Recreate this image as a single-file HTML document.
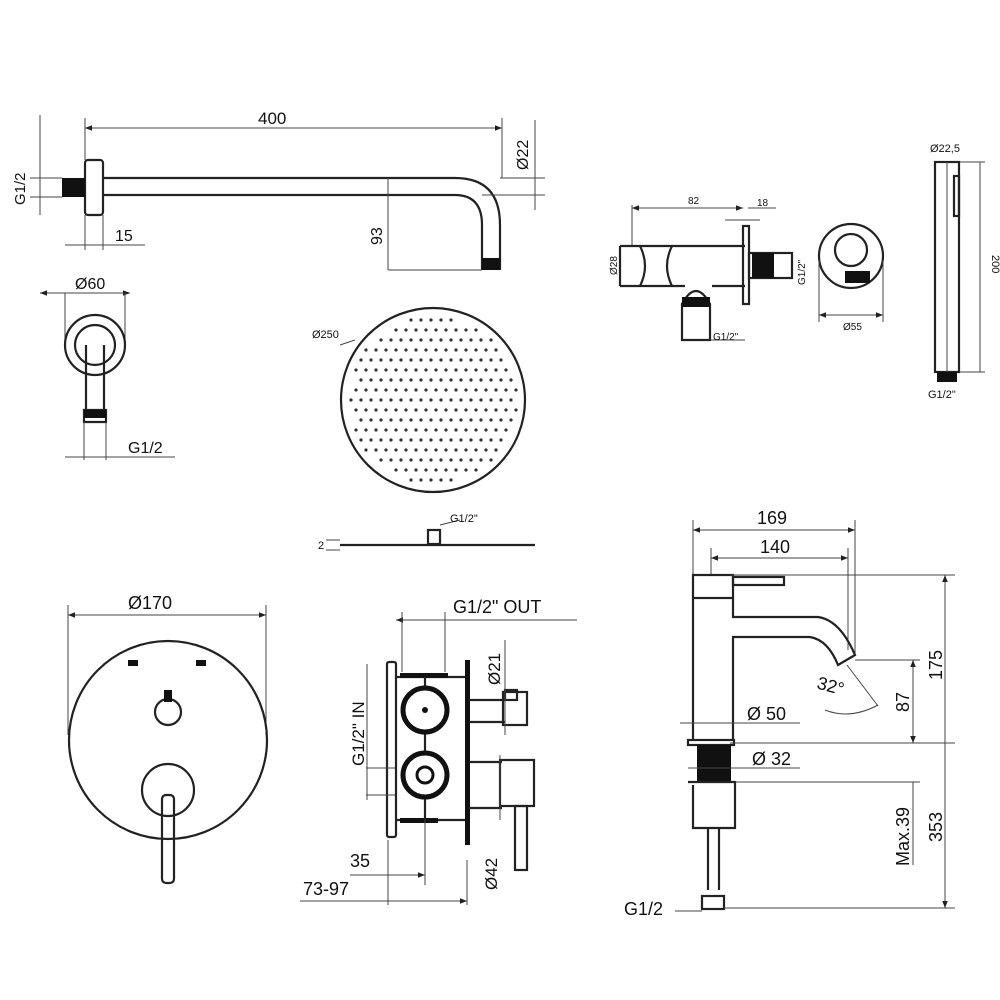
<!DOCTYPE html>
<html><head><meta charset="utf-8"><style>
html,body{margin:0;padding:0;background:#fff}
svg{display:block}
text{font-family:"Liberation Sans",Arial,sans-serif;fill:#111}
.l{stroke:#222;stroke-width:2.2;fill:none}
.t{stroke:#444;stroke-width:1;fill:none}
.b{fill:#111}
</style></head><body>
<svg width="1000" height="1000" viewBox="0 0 1000 1000" xmlns="http://www.w3.org/2000/svg">
<defs><marker id="a" viewBox="0 0 10 10" refX="10" refY="5" markerWidth="7" markerHeight="7" orient="auto-start-reverse"><path d="M0,1L10,5L0,9z" fill="#222"/></marker></defs>

<!-- Shower arm -->
<line class="t" x1="85" y1="128" x2="502" y2="128" marker-start="url(#a)" marker-end="url(#a)"/>
<line class="t" x1="85" y1="118" x2="85" y2="160"/><line class="t" x1="502" y1="118" x2="502" y2="178"/>
<text x="258" y="124" font-size="17">400</text>
<rect class="l" x="85" y="160" width="18" height="55" rx="3"/>
<rect class="b" x="62" y="178" width="23" height="19"/>
<path class="l" d="M103,178 H455 Q500,178 500,225 V270 M103,195 H455 Q482,195 482,225 V270"/>
<rect class="b" x="482" y="258" width="18" height="12"/>
<line class="t" x1="30" y1="178" x2="62" y2="178"/><line class="t" x1="30" y1="197" x2="62" y2="197"/>
<line class="t" x1="40" y1="115" x2="40" y2="215"/>
<text transform="translate(25,205) rotate(-90)" font-size="15">G1/2</text>
<line class="t" x1="500" y1="178" x2="545" y2="178"/><line class="t" x1="482" y1="195" x2="545" y2="195"/>
<line class="t" x1="535" y1="120" x2="535" y2="210"/>
<text transform="translate(528,170) rotate(-90)" font-size="16">Ø22</text>
<line class="t" x1="388" y1="178" x2="388" y2="270"/><line class="t" x1="388" y1="270" x2="482" y2="270"/>
<text transform="translate(382,245) rotate(-90)" font-size="16">93</text>
<line class="t" x1="85" y1="215" x2="85" y2="250"/><line class="t" x1="103" y1="215" x2="103" y2="250"/>
<line class="t" x1="65" y1="245" x2="145" y2="245"/>
<text x="115" y="241" font-size="16">15</text>

<!-- flange -->
<line class="t" x1="40" y1="293" x2="130" y2="293" marker-start="url(#a)" marker-end="url(#a)"/>
<text x="75" y="289" font-size="16">Ø60</text>
<line class="t" x1="65" y1="293" x2="65" y2="345"/><line class="t" x1="125" y1="293" x2="125" y2="345"/>
<circle class="l" cx="95" cy="345" r="30"/><circle class="l" cx="95" cy="345" r="20"/>
<path class="l" d="M86,345 V410 M104,345 V410 M84,410 H106 V422 H84Z"/>
<rect class="b" x="84" y="410" width="22" height="8"/>
<line class="t" x1="84" y1="422" x2="84" y2="460"/><line class="t" x1="106" y1="422" x2="106" y2="460"/>
<line class="t" x1="65" y1="457" x2="175" y2="457"/>
<text x="128" y="453" font-size="16">G1/2</text>

<!-- rain shower -->
<circle class="l" cx="433" cy="400" r="92"/>
<g id="dots" fill="#333">
<script>/* none */</script>
</g>
<text x="312" y="338" font-size="11">Ø250</text>
<line class="t" x1="340" y1="345" x2="355" y2="340"/>
<line class="l" x1="340" y1="545" x2="535" y2="545"/>
<rect class="l" x="428" y="530" width="12" height="14"/>
<line class="t" x1="326" y1="540" x2="340" y2="540"/><line class="t" x1="326" y1="550" x2="340" y2="550"/>
<text x="318" y="549" font-size="11">2</text>
<line class="t" x1="440" y1="525" x2="460" y2="520"/>
<text x="450" y="522" font-size="11">G1/2"</text>

<!-- wall elbow -->
<line class="t" x1="632" y1="208" x2="743" y2="208" marker-start="url(#a)" marker-end="url(#a)"/>
<text x="688" y="204" font-size="10">82</text>
<line class="t" x1="748" y1="208" x2="776" y2="208"/><text x="757" y="206" font-size="10">18</text>
<line class="t" x1="725" y1="220" x2="760" y2="220"/>
<line class="t" x1="632" y1="205" x2="632" y2="245"/>
<path class="l" d="M620,246 H745 M620,286 H685 M712,286 H745 M620,246 V286"/>
<path class="l" d="M640,246 Q650,266 640,286 M672,246 Q662,266 672,286"/>
<rect class="l" x="743" y="226" width="6" height="78"/>
<rect class="l" x="749" y="253" width="43" height="25"/>
<rect class="b" x="752" y="253" width="22" height="25"/>
<path class="l" d="M682,304 Q696,278 710,304 V340 H682Z"/>
<rect class="b" x="682" y="297" width="28" height="10"/>
<text transform="translate(617,275) rotate(-90)" font-size="10">Ø28</text>
<text transform="translate(805,285) rotate(-90)" font-size="10">G1/2"</text>
<line class="t" x1="710" y1="340" x2="745" y2="340"/><text x="713" y="340" font-size="10">G1/2"</text>
<!-- round holder -->
<circle class="l" cx="851" cy="256" r="32"/><circle class="l" cx="851" cy="250" r="16"/>
<rect class="b" x="845" y="271" width="25" height="12"/>
<line class="t" x1="819" y1="260" x2="819" y2="322"/><line class="t" x1="883" y1="260" x2="883" y2="322"/>
<line class="t" x1="819" y1="315" x2="883" y2="315" marker-start="url(#a)" marker-end="url(#a)"/>
<text x="843" y="330" font-size="10">Ø55</text>
<!-- hand shower -->
<text x="930" y="152" font-size="11">Ø22,5</text>
<rect class="l" x="935" y="162" width="24" height="210"/>
<line class="t" x1="947" y1="162" x2="947" y2="372"/>
<rect class="l" x="954" y="176" width="5" height="40"/>
<rect class="b" x="937" y="372" width="20" height="10"/>
<line class="t" x1="960" y1="162" x2="985" y2="162"/><line class="t" x1="960" y1="372" x2="985" y2="372"/>
<line class="t" x1="980" y1="162" x2="980" y2="372"/>
<text transform="translate(992,255) rotate(90)" font-size="11">200</text>
<text x="928" y="398" font-size="11">G1/2"</text>

<!-- mixer plate -->
<line class="t" x1="68" y1="615" x2="266" y2="615" marker-start="url(#a)" marker-end="url(#a)"/>
<line class="t" x1="68" y1="605" x2="68" y2="735"/><line class="t" x1="266" y1="605" x2="266" y2="735"/>
<text x="128" y="609" font-size="18">Ø170</text>
<circle class="l" cx="168" cy="740" r="99"/>
<circle class="l" cx="168" cy="712" r="13"/><rect class="b" x="164" y="690" width="8" height="12"/>
<circle class="l" cx="168" cy="790" r="26"/>
<rect class="l" x="162" y="795" width="12" height="88" rx="4"/>
<rect class="b" x="128" y="660" width="10" height="6"/><rect class="b" x="196" y="660" width="10" height="6"/>

<!-- valve side -->
<line class="t" x1="396" y1="620" x2="577" y2="620" marker-start="url(#a)"/>
<text x="453" y="613" font-size="18">G1/2" OUT</text>
<line class="t" x1="402" y1="612" x2="402" y2="672"/><line class="t" x1="445" y1="612" x2="445" y2="672"/>
<rect class="l" x="387" y="662" width="9" height="175" rx="2"/>
<path class="l" d="M396,677 H466 M396,820 H466"/>
<rect class="b" x="400" y="673" width="48" height="5"/><rect class="b" x="400" y="818" width="38" height="5"/>
<rect class="b" x="465" y="660" width="5" height="185"/>
<line class="l" x1="425" y1="677" x2="425" y2="820"/>
<circle cx="425" cy="710" r="22" fill="#fff" stroke="#111" stroke-width="5"/><circle cx="425" cy="710" r="3" fill="#111"/>
<circle cx="425" cy="775" r="22" fill="#fff" stroke="#111" stroke-width="5"/><circle cx="425" cy="775" r="8" fill="#fff" stroke="#111" stroke-width="3"/>
<path class="l" d="M469,700 H505 M469,722 H505"/>
<rect class="l" x="503" y="692" width="24" height="33"/><rect class="l" x="505" y="690" width="12" height="10"/>
<line class="t" x1="505" y1="640" x2="505" y2="735"/>
<text transform="translate(500,685) rotate(-90)" font-size="17">Ø21</text>
<path class="l" d="M469,762 H502 M469,808 H502"/>
<rect class="l" x="500" y="760" width="34" height="46"/>
<rect class="l" x="515" y="806" width="12" height="64"/>
<line class="t" x1="500" y1="755" x2="500" y2="820"/>
<text transform="translate(497,890) rotate(-90)" font-size="17">Ø42</text>
<line class="t" x1="366" y1="768" x2="395" y2="768"/><line class="t" x1="366" y1="795" x2="395" y2="795"/>
<line class="t" x1="367" y1="765" x2="367" y2="800"/>
<line class="t" x1="367" y1="664" x2="367" y2="765"/>
<text transform="translate(364,766) rotate(-90)" font-size="17">G1/2" IN</text>
<line class="t" x1="388" y1="840" x2="388" y2="905"/><line class="t" x1="425" y1="820" x2="425" y2="885"/><line class="t" x1="467" y1="860" x2="467" y2="905"/>
<line class="t" x1="350" y1="875" x2="425" y2="875" marker-end="url(#a)"/>
<text x="350" y="867" font-size="18">35</text>
<line class="t" x1="300" y1="901" x2="467" y2="901" marker-end="url(#a)"/>
<text x="303" y="895" font-size="18">73-97</text>

<!-- basin mixer -->
<line class="t" x1="693" y1="530" x2="855" y2="530" marker-start="url(#a)" marker-end="url(#a)"/>
<text x="757" y="524" font-size="18">169</text>
<line class="t" x1="711" y1="558" x2="848" y2="558" marker-start="url(#a)" marker-end="url(#a)"/>
<text x="760" y="553" font-size="18">140</text>
<line class="t" x1="693" y1="520" x2="693" y2="575"/><line class="t" x1="855" y1="520" x2="855" y2="655"/>
<line class="t" x1="711" y1="548" x2="711" y2="575"/><line class="t" x1="848" y1="548" x2="848" y2="650"/>
<rect class="l" x="693" y="575" width="40" height="23"/>
<rect class="l" x="733" y="577" width="51" height="8"/>
<path class="l" d="M693,598 V740 M733,598 V617 H818 Q840,620 855,655 L838,665 Q828,640 810,637 H733 V740"/>
<rect class="l" x="688" y="740" width="46" height="5"/>
<rect class="b" x="697" y="745" width="34" height="36"/>
<path class="l" d="M688,782 H735 V828 H693 V785"/>
<path class="l" d="M708,828 V890 M719,828 V890"/>
<rect class="l" x="702" y="896" width="22" height="13"/>
<line class="t" x1="730" y1="575" x2="955" y2="575"/>
<line class="t" x1="730" y1="743" x2="955" y2="743"/>
<line class="t" x1="855" y1="660" x2="920" y2="660"/>
<line class="t" x1="735" y1="782" x2="920" y2="782"/>
<line class="t" x1="724" y1="908" x2="955" y2="908"/>
<line class="t" x1="945" y1="575" x2="945" y2="908" marker-start="url(#a)" marker-end="url(#a)"/>
<text transform="translate(942,680) rotate(-90)" font-size="18">175</text>
<text transform="translate(942,842) rotate(-90)" font-size="18">353</text>
<line class="t" x1="913" y1="660" x2="913" y2="743" marker-start="url(#a)" marker-end="url(#a)"/>
<text transform="translate(909,712) rotate(-90)" font-size="18">87</text>
<line class="t" x1="913" y1="782" x2="913" y2="865"/>
<text transform="translate(909,866) rotate(-90)" font-size="18">Max.39</text>
<line class="t" x1="847" y1="665" x2="878" y2="706"/>
<path class="t" d="M825,710 Q850,720 878,705"/>
<text x="816" y="692" font-size="18" transform="rotate(15 830 690)">32°</text>
<line class="t" x1="680" y1="723" x2="800" y2="723"/>
<text x="747" y="720" font-size="18">Ø 50</text>
<line class="t" x1="688" y1="768" x2="800" y2="768"/>
<text x="752" y="765" font-size="18">Ø 32</text>
<text x="624" y="915" font-size="18">G1/2</text>
<line class="t" x1="675" y1="911" x2="702" y2="911"/>
</svg>
<script>
(function(){var g=document.getElementById('dots'),ns='http://www.w3.org/2000/svg';
for(var y=320;y<=482;y+=10)for(var x=351;x<=515;x+=10){var dx=x-433+((y/10)%2?5:0),dy=y-400;if(dx*dx+dy*dy<84*84){var c=document.createElementNS(ns,'circle');c.setAttribute('cx',433+dx);c.setAttribute('cy',y);c.setAttribute('r','1.6');g.appendChild(c);}}})();
</script>
</body></html>
